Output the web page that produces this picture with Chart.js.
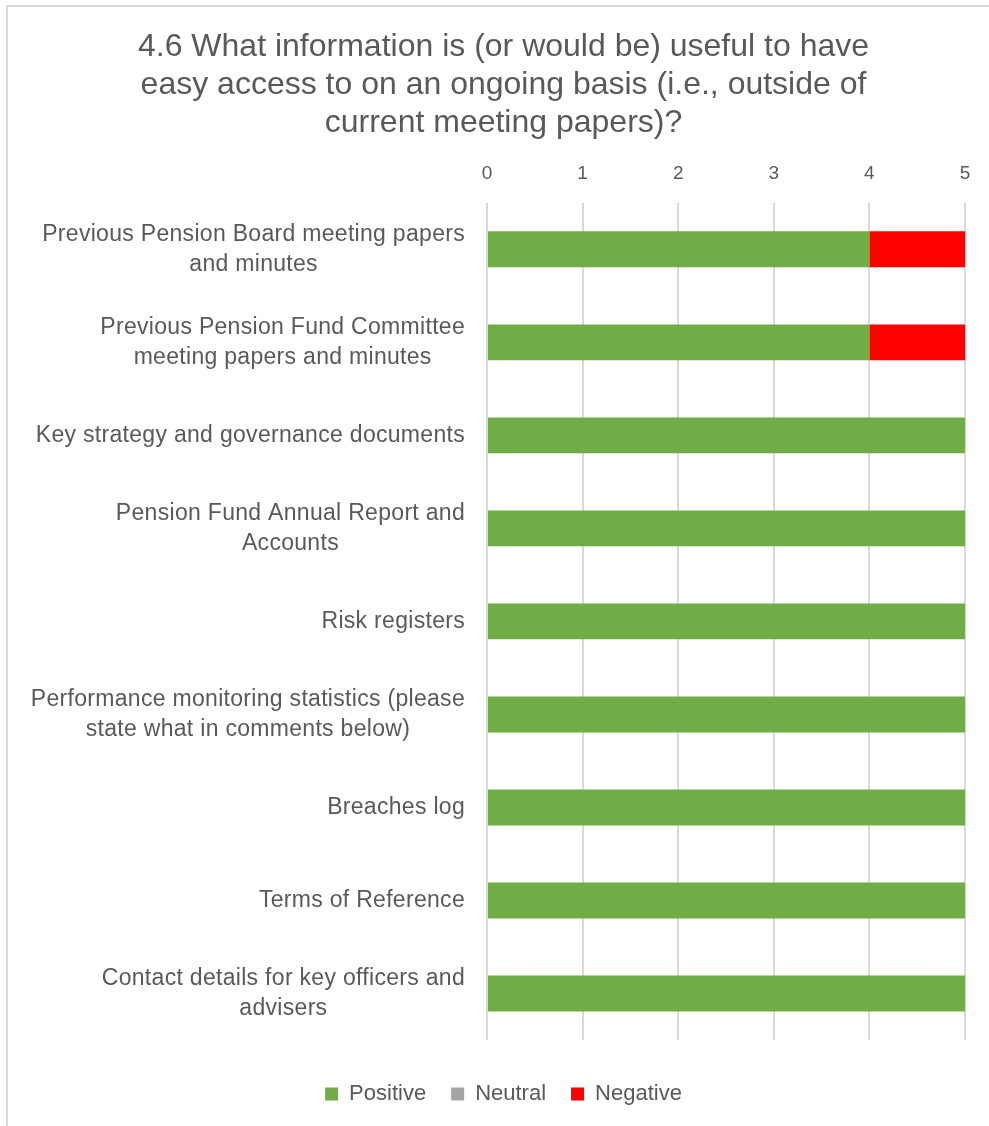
<!DOCTYPE html>
<html>
<head>
<meta charset="utf-8">
<title>4.6 Useful information</title>
<script src="https://cdn.jsdelivr.net/npm/chart.js@4.4.1/dist/chart.umd.min.js"></script>
<style>
    body { margin: 0; background: #ffffff; overflow: hidden; }
    #wrap { position: absolute; left: 0; top: 0; width: 989px; height: 1126px; }
    #frame {
        position: absolute; left: 6px; top: 5px; width: 1000px; height: 1200px;
        border: 2px solid #d9d9d9; pointer-events: none;
    }
</style>
</head>
<body>
<div id="wrap">
    <canvas id="chart" width="989" height="1126"></canvas>
</div>
<div id="frame"></div>
<script>
// Chart data
const titleLines = [
    '4.6 What information is (or would be) useful to have',
    'easy access to on an ongoing basis (i.e., outside of',
    'current meeting papers)?'
];
const categories = [
    ['Previous Pension Board meeting papers', 'and minutes'],
    ['Previous Pension Fund Committee', 'meeting papers and minutes'],
    ['Key strategy and governance documents'],
    ['Pension Fund Annual Report and', 'Accounts'],
    ['Risk registers'],
    ['Performance monitoring statistics (please', 'state what in comments below)'],
    ['Breaches log'],
    ['Terms of Reference'],
    ['Contact details for key officers and', 'advisers']
];
const positive = [4, 4, 5, 5, 5, 5, 5, 5, 5];
const neutral = [0, 0, 0, 0, 0, 0, 0, 0, 0];
const negative = [1, 1, 0, 0, 0, 0, 0, 0, 0];
const xTicks = [0, 1, 2, 3, 4, 5];

const textColor = '#595959';

// Category labels drawn like Excel: block right-aligned, lines centred inside it
const categoryLabels = {
    id: 'categoryLabels',
    afterDraw(chart) {
        const { ctx, chartArea } = chart;
        const yScale = chart.scales.y;
        const lineHeight = 30;
        const right = chartArea.left - 22;
        ctx.save();
        ctx.font = '23px "Liberation Sans", Arial, sans-serif';
        if ('letterSpacing' in ctx) ctx.letterSpacing = '0.3px';
        ctx.fillStyle = textColor;
        ctx.textAlign = 'center';
        ctx.textBaseline = 'middle';
        categories.forEach((lines, i) => {
            const cy = yScale.getPixelForValue(i);
            const widest = Math.max(...lines.map(l => ctx.measureText(l).width));
            const cx = right - widest / 2;
            lines.forEach((line, k) => {
                ctx.fillText(line, cx, cy + (k - (lines.length - 1) / 2) * lineHeight);
            });
        });
        ctx.restore();
    }
};

const ctx = document.getElementById('chart').getContext('2d');
new Chart(ctx, {
    type: 'bar',
    data: {
        labels: categories,
        datasets: [
            { label: 'Positive', data: positive, backgroundColor: '#70AD47' },
            { label: 'Neutral', data: neutral, backgroundColor: '#A5A5A5' },
            { label: 'Negative', data: negative, backgroundColor: '#FF0000' }
        ]
    },
    options: {
        indexAxis: 'y',
        responsive: false,
        animation: false,
        layout: { padding: { left: 42, right: 24, top: 0, bottom: 11 } },
        datasets: {
            bar: { categoryPercentage: 1, barPercentage: 0.386, borderWidth: 0 }
        },
        scales: {
            x: {
                position: 'top',
                stacked: true,
                min: 0,
                max: 5,
                afterBuildTicks: scale => { scale.ticks = xTicks.map(v => ({ value: v })); },
                grid: { color: '#d9d9d9', lineWidth: 2, drawTicks: false },
                border: { display: false },
                ticks: {
                    padding: 18,
                    color: textColor,
                    font: { family: '"Liberation Sans Narrow", "Liberation Sans", Arial', size: 19 }
                }
            },
            y: {
                stacked: true,
                grid: { display: false },
                border: { display: false },
                ticks: { display: false },
                afterFit: scale => { scale.width = 445; }
            }
        },
        plugins: {
            title: {
                display: true,
                text: titleLines,
                color: textColor,
                font: { family: '"Liberation Sans", Arial', size: 32, weight: 'normal', lineHeight: '38px' },
                padding: { top: 28, bottom: 2 }
            },
            legend: {
                position: 'bottom',
                title: { display: true, text: '', font: { size: 10, lineHeight: '18px' }, padding: 0 },
                labels: {
                    color: textColor,
                    boxWidth: 13,
                    boxHeight: 13,
                    padding: 25,
                    font: { family: '"Liberation Sans", Arial', size: 22 }
                }
            },
            tooltip: { enabled: false }
        }
    },
    plugins: [categoryLabels]
});
</script>
</body>
</html>
